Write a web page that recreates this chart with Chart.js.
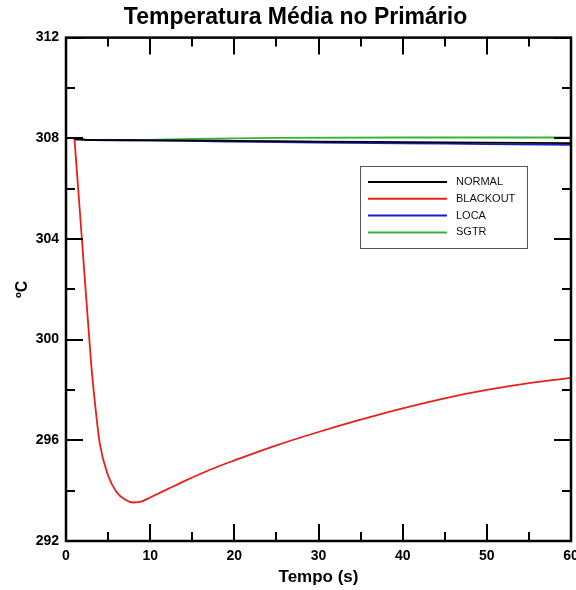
<!DOCTYPE html>
<html>
<head>
<meta charset="utf-8">
<script src="https://cdn.jsdelivr.net/npm/chart.js@4"></script>
<style>
  html, body { margin: 0; padding: 0; background: #fff; }
  #wrap { width: 576px; height: 590px; }
</style>
</head>
<body>
<div id="wrap"><canvas id="tempChart" width="576" height="590"></canvas></div>
<script>
// 時間軸 (s)
const tempoNormal = [1, 3, 10, 20, 30, 40, 50, 60];
const tempoBlackout = [1, 2, 3, 3.5, 4, 5, 6, 7, 8, 9, 10, 12, 14, 16, 18, 20, 25, 30, 35, 40, 45, 50, 55, 60];
const tempoSgtr = [1, 3, 8, 15, 25, 40, 60];

// 温度 (ºC)
const normalValues = [307.97, 307.93, 307.92, 307.9, 307.87, 307.85, 307.83, 307.81];
const blackoutValues = [308.0, 303.5, 299.0, 297.3, 295.9, 294.6, 293.95, 293.65, 293.53, 293.57, 293.73,
                        294.05, 294.37, 294.67, 294.95, 295.2, 295.8, 296.33, 296.82, 297.27, 297.67, 298.0, 298.27, 298.48];
const locaValues = [307.97, 307.93, 307.92, 307.87, 307.83, 307.8, 307.77, 307.74];
const sgtrValues = [307.97, 307.93, 307.93, 307.98, 308.02, 308.03, 308.03];

const seriesLabels = ['NORMAL', 'BLACKOUT', 'LOCA', 'SGTR'];

// 目盛り
const xMajorTicks = [0, 10, 20, 30, 40, 50, 60];
const xMinorTicks = [5, 15, 25, 35, 45, 55];
const yMajorTicks = [292, 296, 300, 304, 308, 312];
const yMinorTicks = [294, 298, 302, 306, 310];

function toPoints(xs, ys) {
    return xs.map((x, i) => ({ x: x, y: ys[i] }));
}

// タイトルの中心を少し右へずらす
const titleShiftPlugin = {
    id: 'titleShift',
    afterLayout(chart) {
        if (chart.titleBlock) {
            chart.titleBlock.left = 20;
        }
    }
};

// 枠線と内向きの目盛りを描くプラグイン
const framePlugin = {
    id: 'frame',
    afterDatasetsDraw(chart) {
        const ctx = chart.ctx;
        const area = chart.chartArea;
        const xs = chart.scales.x;
        const ys = chart.scales.y;
        ctx.save();
        ctx.strokeStyle = '#000';
        ctx.lineWidth = 2;
        ctx.beginPath();
        const drawX = (v, len) => {
            const px = Math.round(xs.getPixelForValue(v));
            ctx.moveTo(px, area.bottom); ctx.lineTo(px, area.bottom - len);
            ctx.moveTo(px, area.top); ctx.lineTo(px, area.top + len);
        };
        const drawY = (v, len) => {
            const py = Math.round(ys.getPixelForValue(v));
            ctx.moveTo(area.left, py); ctx.lineTo(area.left + len, py);
            ctx.moveTo(area.right, py); ctx.lineTo(area.right - len, py);
        };
        xMajorTicks.forEach(v => drawX(v, 17));
        xMinorTicks.forEach(v => drawX(v, 9));
        yMajorTicks.forEach(v => drawY(v, 17));
        yMinorTicks.forEach(v => drawY(v, 9));
        ctx.stroke();
        ctx.lineWidth = 2.5;
        ctx.strokeRect(area.left, area.top, area.right - area.left, area.bottom - area.top);
        ctx.restore();
    }
};

// 凡例をプロット内に描くプラグイン
const boxLegendPlugin = {
    id: 'boxLegend',
    afterDraw(chart) {
        const ctx = chart.ctx;
        const left = 360, top = 166, width = 167, height = 82;
        ctx.save();
        ctx.fillStyle = '#fff';
        ctx.fillRect(left, top, width, height);
        ctx.strokeStyle = '#555';
        ctx.lineWidth = 1;
        ctx.strokeRect(left + 0.5, top + 0.5, width, height);
        ctx.font = '11px "Liberation Sans", Arial, sans-serif';
        ctx.textBaseline = 'middle';
        chart.data.datasets.forEach((ds, i) => {
            const y = top + 16 + i * 16.8;
            ctx.strokeStyle = ds.borderColor;
            ctx.lineWidth = 2;
            ctx.beginPath();
            ctx.moveTo(left + 8, y);
            ctx.lineTo(left + 87, y);
            ctx.stroke();
            ctx.fillStyle = '#111';
            ctx.fillText(ds.label, left + 96, y);
        });
        ctx.restore();
    }
};

const ctx = document.getElementById('tempChart').getContext('2d');
const chart = new Chart(ctx, {
    type: 'line',
    data: {
        datasets: [
            { label: seriesLabels[0], data: toPoints(tempoNormal, normalValues), borderColor: '#000000' },
            { label: seriesLabels[1], data: toPoints(tempoBlackout, blackoutValues), borderColor: '#e8201c' },
            { label: seriesLabels[2], data: toPoints(tempoNormal, locaValues), borderColor: '#1c1cc8' },
            { label: seriesLabels[3], data: toPoints(tempoSgtr, sgtrValues), borderColor: '#34b434' }
        ]
    },
    options: {
        responsive: false,
        animation: false,
        layout: { padding: { top: 0, right: 5, bottom: 0, left: 0 } },
        elements: {
            point: { radius: 0 },
            line: { borderWidth: 1.8, cubicInterpolationMode: 'monotone', fill: false }
        },
        scales: {
            x: {
                type: 'linear',
                min: 0,
                max: 60,
                grid: { display: false, drawTicks: false },
                border: { display: false },
                ticks: {
                    stepSize: 10,
                    padding: 7,
                    color: '#000',
                    maxRotation: 0,
                    font: { family: '"Liberation Sans", Arial, sans-serif', size: 14, weight: 'bold' }
                },
                title: {
                    display: true,
                    text: 'Tempo (s)',
                    color: '#000',
                    padding: { top: 0, bottom: 2 },
                    font: { family: '"Liberation Sans", Arial, sans-serif', size: 17, weight: 'bold' }
                },
                afterFit(scale) {
                    scale.height = 49;
                    scale.paddingLeft = 0;
                    scale.paddingRight = 0;
                }
            },
            y: {
                min: 292,
                max: 312,
                grid: { display: false, drawTicks: false },
                border: { display: false },
                ticks: {
                    stepSize: 4,
                    padding: 7,
                    color: '#000',
                    font: { family: '"Liberation Sans", Arial, sans-serif', size: 14, weight: 'bold' }
                },
                title: {
                    display: true,
                    text: 'ºC',
                    color: '#000',
                    padding: { top: 13, bottom: 0 },
                    font: { family: '"Liberation Sans", Arial, sans-serif', size: 16, weight: 'bold' }
                },
                afterFit(scale) {
                    scale.width = 66;
                    scale.paddingTop = 0;
                    scale.paddingBottom = 0;
                }
            }
        },
        plugins: {
            legend: { display: false },
            tooltip: { enabled: false },
            title: {
                display: true,
                text: 'Temperatura Média no Primário',
                color: '#000',
                padding: { top: 4, bottom: 6 },
                font: { family: '"Liberation Sans", Arial, sans-serif', size: 23, weight: 'bold' }
            }
        }
    },
    plugins: [titleShiftPlugin, framePlugin, boxLegendPlugin]
});
</script>
</body>
</html>
